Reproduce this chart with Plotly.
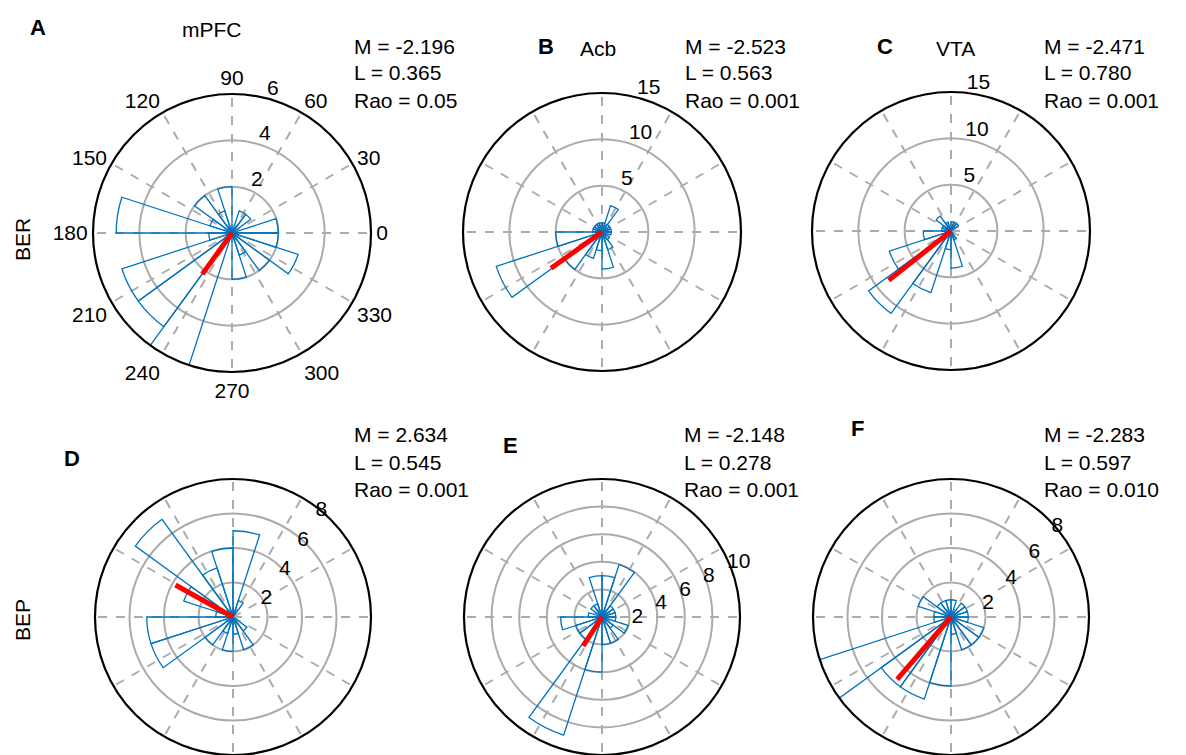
import math
import plotly.graph_objects as go

# ---------------- data ----------------
bin_centers = [9 + 18 * k for k in range(20)]  # degrees, 20 bins of 18 deg

counts_A = [2, 0, 1, 1, 0, 2, 1, 2, 1, 5, 1, 5, 5, 6, 0, 2, 1, 2, 3, 2]
counts_B = [1, 1, 1, 3, 1, 1, 1, 1, 1, 1, 5, 12, 5, 3, 2, 4, 2, 1, 0, 1]
counts_C = [0, 0, 1, 1, 1, 0, 1, 2, 1, 1, 3, 7, 11, 7, 2, 4, 1, 0, 0, 0]
counts_D = [0, 0, 0, 1, 5, 4, 3, 7, 3, 1, 5, 5, 2, 1, 2, 1, 2, 1, 0, 0]
counts_E = [1, 1, 1, 4, 3, 3, 1, 1, 0, 1, 3, 2, 2, 9, 4, 2, 2, 1, 2, 1]
counts_F = [1, 1, 1, 0, 1, 1, 1, 1, 2, 1, 1, 8, 5, 5, 4, 1, 2, 2, 2, 1]

mean_M = [-2.196, -2.523, -2.471, 2.634, -2.148, -2.283]
mean_L = [0.365, 0.563, 0.780, 0.545, 0.278, 0.597]
rao_p = ["0.05", "0.001", "0.001", "0.001", "0.001", "0.010"]

panel_letters = ["A", "B", "C", "D", "E", "F"]
region_titles = ["mPFC", "Acb", "VTA"]
row_labels = ["BER", "BEP"]
r_max = [6, 15, 15, 8, 10, 8]
r_ticks = [[2, 4, 6], [5, 10, 15], [5, 10, 15], [2, 4, 6, 8], [2, 4, 6, 8, 10], [2, 4, 6, 8]]
theta_ticks = list(range(0, 360, 30))

all_counts = [counts_A, counts_B, counts_C, counts_D, counts_E, counts_F]

# ---------------- layout geometry (pixels) ----------------
W, H = 1186, 755
centers = [(232, 233), (602, 232), (951, 231), (233, 617), (602, 617), (951, 617)]
radii = [139, 139, 139, 138, 138, 138]
raxis_angle = [80, 80, 88, 58, 30, 48]

FONT = "Liberation Sans, Arial, sans-serif"
BLUE = "#0072BD"
GRID = "#ABABAB"

fig = go.Figure()
layout_polars = {}
for i in range(6):
    name = "polar" if i == 0 else f"polar{i+1}"
    sub = "polar" if i == 0 else f"polar{i+1}"
    cnt = all_counts[i]
    fig.add_trace(go.Barpolar(
        r=cnt, theta=bin_centers, width=[18] * 20,
        marker=dict(color="rgba(0,0,0,0)", line=dict(color=BLUE, width=1.3)),
        subplot=sub, showlegend=False, hoverinfo="skip"))
    L = mean_L[i] * max(cnt)
    ang = math.degrees(mean_M[i])
    fig.add_trace(go.Scatterpolar(
        r=[0, L], theta=[0, ang], mode="lines",
        line=dict(color="#FF0000", width=5),
        subplot=sub, showlegend=False, hoverinfo="skip"))

    cx, cy = centers[i]
    R = radii[i]
    x0, x1 = (cx - R) / W, (cx + R) / W
    y0, y1 = 1 - (cy + R) / H, 1 - (cy - R) / H
    y0 = max(0.0, y0)
    y1 = min(1.0, y1)
    if i < 3:
        # near-vertical radial axis: an empty second line lifts the label
        rtext = [f"{t}<br> " for t in r_ticks[i]]
    else:
        rtext = [str(t) for t in r_ticks[i]]
    layout_polars[name] = dict(
        domain=dict(x=[x0, x1], y=[y0, y1]),
        bgcolor="white",
        bargap=0,
        angularaxis=dict(
            rotation=0, direction="counterclockwise",
            tickmode="array", tickvals=theta_ticks,
            ticktext=[str(t) for t in theta_ticks],
            showticklabels=(i == 0), ticks="",
            tickfont=dict(family=FONT, size=21, color="black"),
            showgrid=True, gridcolor=GRID, gridwidth=1.8, griddash="dash",
            showline=True, linecolor="black", linewidth=2.2,
        ),
        radialaxis=dict(
            range=[0, r_max[i]], tickmode="array", tickvals=r_ticks[i],
            ticktext=rtext,
            showline=False, ticks="", angle=raxis_angle[i],
            tickangle=raxis_angle[i],
            tickfont=dict(family=FONT, size=21, color="black"),
            showgrid=True, gridcolor=GRID, gridwidth=2,
        ),
    )

annotations = []

def ann(text, x, y, size=21, bold=False, xanchor="center", angle=0):
    annotations.append(dict(
        text=f"<b>{text}</b>" if bold else text,
        x=x / W, y=1 - y / H, xref="paper", yref="paper",
        xanchor=xanchor, yanchor="middle", showarrow=False, textangle=angle,
        font=dict(family=FONT, size=size, color="black")))

letter_pos = [(38, 28), (546, 47), (885, 47), (72, 458), (510, 445), (857, 428)]
for i in range(6):
    ann(panel_letters[i], *letter_pos[i], size=22, bold=True)

title_pos = [(212, 30), (598, 48), (955, 48)]
for i in range(3):
    ann(region_titles[i], *title_pos[i])

ann(row_labels[0], 22, 240, angle=-90)
ann(row_labels[1], 22, 620, angle=-90)

stat_pos = [(352, 46), (683, 46), (1042, 46), (352, 435), (682, 435), (1042, 435)]
for i in range(6):
    sx, sy = stat_pos[i]
    ann(f"M = {mean_M[i]:.3f}", sx, sy, xanchor="left")
    ann(f"L = {mean_L[i]:.3f}", sx, sy + 27, xanchor="left")
    ann(f"Rao = {rao_p[i]}", sx, sy + 54, xanchor="left")

fig.update_layout(
    width=W, height=H,
    margin=dict(l=0, r=0, t=0, b=0),
    paper_bgcolor="white", plot_bgcolor="white",
    annotations=annotations,
    **layout_polars,
)

fig.write_html("out.html", config={"displayModeBar": False},
               post_script="document.body.style.margin='0px';document.body.style.padding='0px';")
